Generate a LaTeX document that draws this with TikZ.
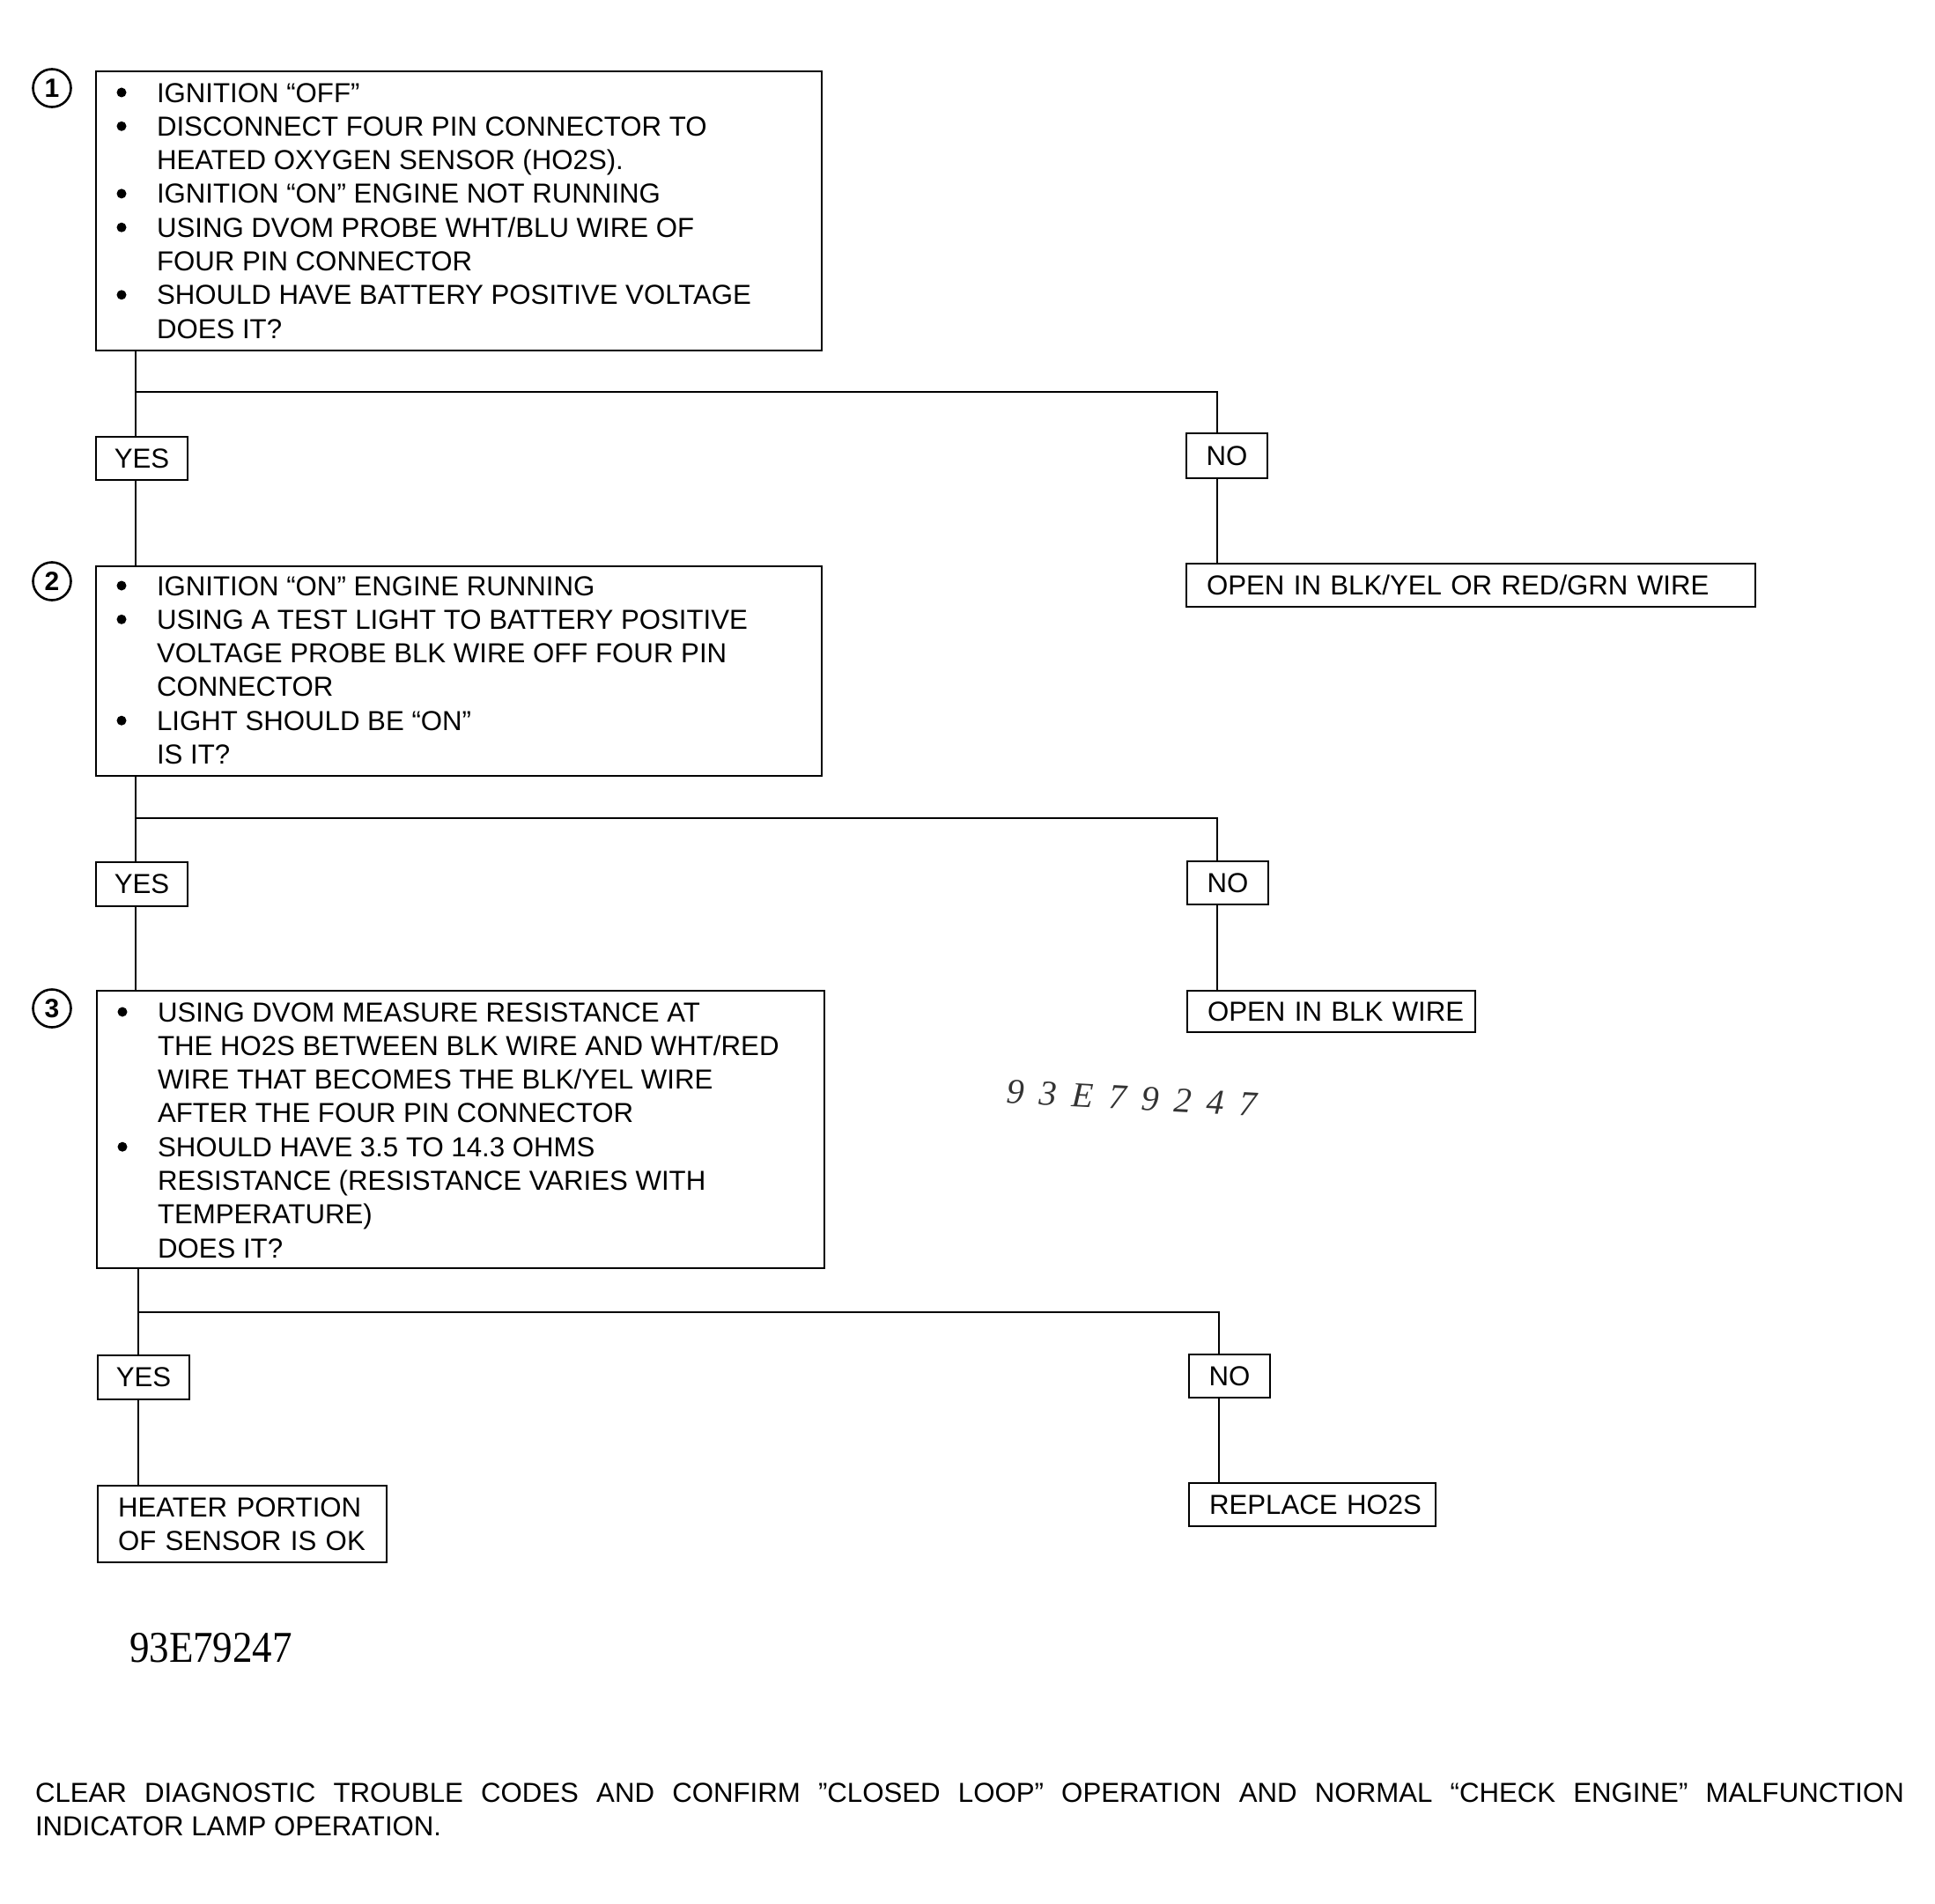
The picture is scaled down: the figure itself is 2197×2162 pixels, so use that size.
\documentclass[tikz,border=0pt]{standalone}
\usepackage{fontspec}
\usepackage{graphicx}
\setmainfont{Liberation Sans}
\newfontfamily\serifnum{Liberation Serif}
\newcommand\fbody{\fontsize{31.2}{38.3}\selectfont}
\begin{document}
\begin{tikzpicture}[x=1pt,y=-1pt,line width=2pt,
  bigbox/.style={draw,line width=2pt,rectangle,inner sep=0pt,anchor=north west},
  body/.style={font=\fbody,align=left,inner sep=0pt,anchor=north west},
  ansbox/.style={draw,line width=2pt,rectangle,inner sep=0pt,anchor=north west,font=\fbody},
  resbox/.style={draw,line width=2pt,rectangle,anchor=north west,font=\fbody,align=left,inner xsep=23pt,inner ysep=0pt},
  numcirc/.style={draw,circle,line width=2.6pt,minimum size=43pt,inner sep=0pt,font=\bfseries\fontsize{30}{30}\selectfont},
  conn/.style={line width=2pt},
  bulletdot/.style={fill=black}]
\useasboundingbox (0,0) rectangle (2197,2162);

% step 1
\node[numcirc] (c1) at (59,100) {1};
\node[bigbox,minimum width=824pt,minimum height=317pt] (b1) at (108,80) {};
\node[body] (t1) at (177,91) {\rule{0pt}{24pt}IGNITION “OFF”\\
DISCONNECT FOUR PIN CONNECTOR TO\\
HEATED OXYGEN SENSOR (HO2S).\\
IGNITION “ON” ENGINE NOT RUNNING\\
USING DVOM PROBE WHT/BLU WIRE OF\\
FOUR PIN CONNECTOR\\
SHOULD HAVE BATTERY POSITIVE VOLTAGE\\
DOES IT?};
\foreach \k in {0,1,3,4,6} \fill[bulletdot] (138,{105+38.3*\k}) circle (5.5);
\node[ansbox,minimum width=104pt,minimum height=49pt] (yes1) at (108,495) {YES};
\node[ansbox,minimum width=92pt,minimum height=51pt] (no1) at (1346,491) {NO};
\node[resbox,text width=600pt,minimum height=49pt] (r1) at (1346,639) {\mbox{OPEN IN BLK/YEL OR RED/GRN WIRE}};

% step 2
\node[numcirc] (c2) at (59,660) {2};
\node[bigbox,minimum width=824pt,minimum height=238pt] (b2) at (108,642) {};
\node[body] (t2) at (177,651) {\rule{0pt}{24pt}IGNITION “ON” ENGINE RUNNING\\
USING A TEST LIGHT TO BATTERY POSITIVE\\
VOLTAGE PROBE BLK WIRE OFF FOUR PIN\\
CONNECTOR\\
LIGHT SHOULD BE “ON”\\
IS IT?};
\foreach \k in {0,1,4} \fill[bulletdot] (138,{665+38.3*\k}) circle (5.5);
\node[ansbox,minimum width=104pt,minimum height=50pt] (yes2) at (108,978) {YES};
\node[ansbox,minimum width=92pt,minimum height=49pt] (no2) at (1347,977) {NO};
\node[resbox,text width=281pt,minimum height=47pt] (r2) at (1347,1124) {\mbox{OPEN IN BLK WIRE}};

% step 3
\node[numcirc] (c3) at (59,1145) {3};
\node[bigbox,minimum width=826pt,minimum height=315pt] (b3) at (109,1124) {};
\node[body] (t3) at (178,1135) {\rule{0pt}{24pt}USING DVOM MEASURE RESISTANCE AT\\
THE HO2S BETWEEN BLK WIRE AND WHT/RED\\
WIRE THAT BECOMES THE BLK/YEL WIRE\\
AFTER THE FOUR PIN CONNECTOR\\
SHOULD HAVE 3.5 TO 14.3 OHMS\\
RESISTANCE (RESISTANCE VARIES WITH\\
TEMPERATURE)\\
DOES IT?};
\foreach \k in {0,4} \fill[bulletdot] (139,{1149+38.3*\k}) circle (5.5);
\node[ansbox,minimum width=104pt,minimum height=50pt] (yes3) at (110,1538) {YES};
\node[ansbox,minimum width=92pt,minimum height=49pt] (no3) at (1349,1537) {NO};
\node[resbox,text width=282pt,minimum height=87pt] (r3) at (110,1686) {HEATER PORTION\\OF SENSOR IS OK};
\node[resbox,text width=234pt,minimum height=49pt] (r4) at (1349,1683) {\mbox{REPLACE HO2S}};

% connectors
\coordinate (j1) at (154,445);
\coordinate (k1) at (1382,445);
\draw[conn] (b1.south -| j1) -- (yes1.north -| j1);
\draw[conn] (yes1.south -| j1) -- (b2.north -| j1);
\draw[conn] (j1) -- (k1) -- (no1.north -| k1);
\draw[conn] (no1.south -| k1) -- (r1.north -| k1);

\coordinate (j2) at (154,929);
\coordinate (k2) at (1382,929);
\draw[conn] (b2.south -| j2) -- (yes2.north -| j2);
\draw[conn] (yes2.south -| j2) -- (b3.north -| j2);
\draw[conn] (j2) -- (k2) -- (no2.north -| k2);
\draw[conn] (no2.south -| k2) -- (r2.north -| k2);

\coordinate (j3) at (157,1490);
\coordinate (k3) at (1384,1490);
\draw[conn] (b3.south -| j3) -- (yes3.north -| j3);
\draw[conn] (yes3.south -| j3) -- (r3.north -| j3);
\draw[conn] (j3) -- (k3) -- (no3.north -| k3);
\draw[conn] (no3.south -| k3) -- (r4.north -| k3);

% handwritten figure number
\node[inner sep=0pt,rotate=-3,text=black!80,font=\serifnum\itshape\fontsize{40}{40}\selectfont] (hw) at (1285,1247) {\makebox[284pt][s]{9 3 E 7 9 2 4 7}};

% figure number
\node[anchor=base west,inner sep=0pt,font=\serifnum\fontsize{50}{50}\selectfont] (fig) at (146,1887) {\scalebox{0.9}[1]{93E79247}};

% footer
\node[anchor=base west,inner sep=0pt,font=\fbody] (f1) at (39,2046) {\makebox[2122pt][s]{CLEAR DIAGNOSTIC TROUBLE CODES AND CONFIRM ”CLOSED LOOP” OPERATION AND NORMAL “CHECK ENGINE” MALFUNCTION}};
\node[anchor=base west,inner sep=0pt,font=\fbody] (f2) at (39,2084) {INDICATOR LAMP OPERATION.};
\end{tikzpicture}
\end{document}
